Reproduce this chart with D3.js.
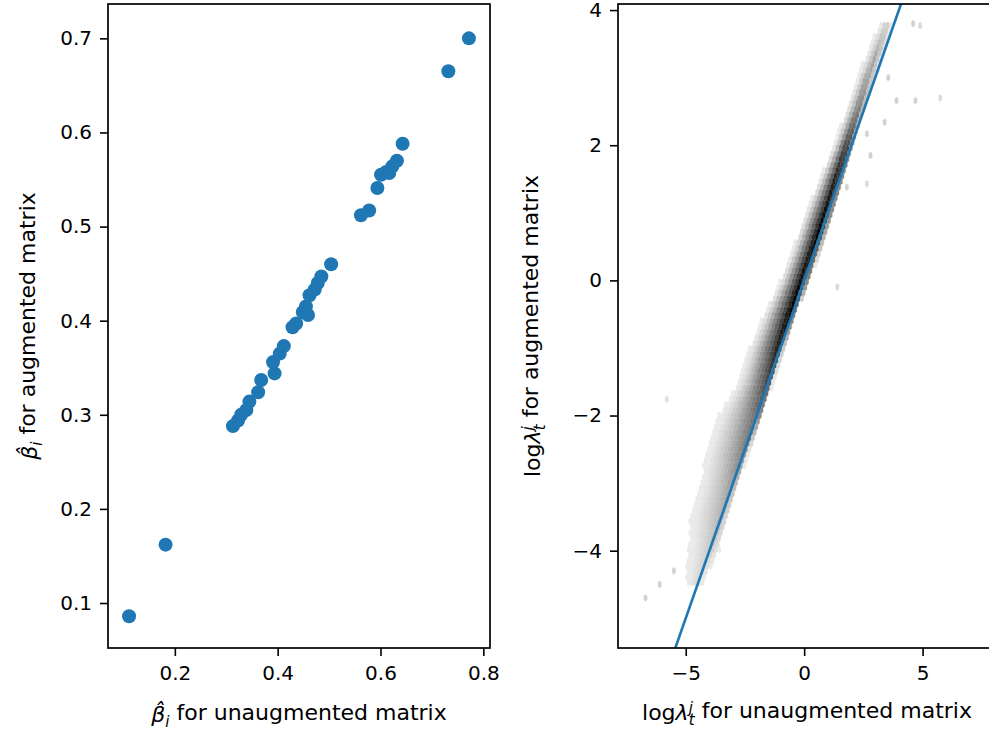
<!DOCTYPE html>
<html>
<head>
<meta charset="utf-8">
<script src="https://cdn.jsdelivr.net/npm/d3@7"></script>
<style>
  body { margin: 0; background: #fff; }
  text { font-family: "DejaVu Sans", sans-serif; fill: #000; }
</style>
</head>
<body>
<div id="chart"></div>
<script>
// left panel: beta estimates, unaugmented vs augmented
const betaUnaug = [0.111, 0.182, 0.313, 0.323, 0.329, 0.339, 0.345, 0.362, 0.368, 0.394, 0.391, 0.404,
  0.412, 0.429, 0.436, 0.459, 0.449, 0.455, 0.462, 0.472, 0.478, 0.485, 0.504, 0.562, 0.578, 0.594,
  0.601, 0.611, 0.617, 0.623, 0.632, 0.643, 0.732, 0.772];
const betaAug = [0.086, 0.162, 0.288, 0.294, 0.300, 0.305, 0.314, 0.324, 0.337, 0.344, 0.356, 0.365,
  0.373, 0.393, 0.397, 0.406, 0.409, 0.415, 0.427, 0.433, 0.440, 0.447, 0.460, 0.512, 0.517, 0.541,
  0.555, 0.558, 0.557, 0.564, 0.570, 0.588, 0.665, 0.700];
const leftXTicks = [0.2, 0.4, 0.6, 0.8];
const leftYTicks = [0.1, 0.2, 0.3, 0.4, 0.5, 0.6, 0.7];

// right panel: hexbin density band of log lambda, read row by row (y knots)
const bandY    = [-4.5, -4.0, -3.5, -3.0, -2.5, -2.0, -1.5, -1.0, -0.5, 0.0, 0.5, 1.0, 1.5, 2.0, 2.5, 3.0, 3.5, 3.8];
const bandLeft = [-5.0, -4.9, -4.8, -4.4, -4.1, -3.6, -2.8, -2.3, -1.7, -1.0, -0.45, 0.05, 0.65, 1.25, 1.75, 2.25, 2.8, 3.2];
const bandRight= [-4.3, -3.6, -3.2, -2.75, -2.3, -1.75, -1.3, -0.85, -0.35, 0.25, 0.75, 1.25, 1.7, 2.1, 2.55, 3.0, 3.5, 3.7];
const bandCore = [-4.6, -4.0, -3.5, -3.0, -2.5, -1.95, -1.5, -1.05, -0.6, -0.1, 0.4, 0.9, 1.35, 1.8, 2.25, 2.65, 3.2, 3.5];
const bandPeak = [0.15, 0.25, 0.35, 0.45, 0.55, 0.65, 0.8, 0.95, 1.0, 1.0, 1.0, 1.0, 0.95, 0.85, 0.6, 0.45, 0.35, 0.25];
// isolated hex cells away from the band: [x, y, shade]
const strayCells = [[4.6, 3.8, 0.2], [4.9, 3.77, 0.15], [3.55, 3.0, 0.2], [3.9, 2.66, 0.2], [4.7, 2.66, 0.2],
  [3.4, 2.34, 0.2], [2.65, 2.17, 0.2], [2.8, 1.85, 0.2], [2.65, 1.43, 0.15], [1.8, 1.38, 0.2],
  [1.4, -0.1, 0.15], [5.75, 2.7, 0.15], [-5.8, -1.76, 0.12], [-5.5, -4.3, 0.2], [-6.1, -4.5, 0.2],
  [-6.7, -4.7, 0.2]];
const rightXTicks = [-5, 0, 5];
const rightYTicks = [-4, -2, 0, 2, 4];

const width = 989, height = 732;
const blue = "#1f77b4";

const svg = d3.select("#chart").append("svg")
  .attr("width", width)
  .attr("height", height);
svg.append("rect").attr("width", width).attr("height", height).attr("fill", "#fff");

// ---------- left panel ----------
const L = { x0: 108, x1: 490, y0: 4, y1: 648 };
const xL = d3.scaleLinear().domain([0.070, 0.813]).range([L.x0, L.x1]);
const yL = d3.scaleLinear().domain([0.0522, 0.7365]).range([L.y1, L.y0]);

const gL = svg.append("g");
gL.selectAll("circle")
  .data(betaUnaug.map((v, i) => [v, betaAug[i]]))
  .enter().append("circle")
  .attr("cx", d => xL(d[0]))
  .attr("cy", d => yL(d[1]))
  .attr("r", 7)
  .attr("fill", blue);

drawAxes(gL, xL, yL, L, leftXTicks, leftYTicks, d3.format(".1f"), d3.format(".1f"));

// ---------- right panel ----------
const R = { x0: 618, x1: 996, y0: 4, y1: 648 };
const xR = d3.scaleLinear().domain([-7.86, 8.1]).range([R.x0, R.x1]);
const yR = d3.scaleLinear().domain([-5.44, 4.09]).range([R.y1, R.y0]);

svg.append("clipPath").attr("id", "clipR")
  .append("rect").attr("x", R.x0).attr("y", R.y0).attr("width", R.x1 - R.x0).attr("height", R.y1 - R.y0);

const gR = svg.append("g").attr("clip-path", "url(#clipR)");

// band profile as polylinear scales over y
const leftS = d3.scaleLinear().domain(bandY).range(bandLeft);
const rightS = d3.scaleLinear().domain(bandY).range(bandRight);
const coreS = d3.scaleLinear().domain(bandY).range(bandCore);
const peakS = d3.scaleLinear().domain(bandY).range(bandPeak);
const grey = s => d3.interpolateGreys(0.1 + 0.9 * s);

// hex grid like matplotlib hexbin (gridsize 100)
const sx = 0.1425, sy = 0.165, gx0 = -7.15, gy0 = -5.3;
const cells = [];
for (let j = 0; j < 62; j++) {
  for (let i = 0; i <= 100; i++) {
    [[gx0 + i * sx, gy0 + j * sy], [gx0 + (i + 0.5) * sx, gy0 + (j + 0.5) * sy]].forEach(([cx, cy]) => {
      if (cy < bandY[0] || cy > bandY[bandY.length - 1]) return;
      const l = leftS(cy), r = rightS(cy), c = coreS(cy), p = peakS(cy);
      if (cx < l || cx > r) return;
      let s;
      if (cx < c) s = p * Math.pow(1 - (c - cx) / (c - l), 1.0);
      else s = p * Math.pow(1 - (cx - c) / (r - c), 0.6);
      cells.push([cx, cy, Math.max(s, 0.06)]);
    });
  }
}
strayCells.forEach(d => cells.push(d));

const hw = (xR(sx) - xR(0)) / 2;
const hh = (yR(0) - yR(sy / 3));
function hexPath(px, py) {
  return `M${px + hw},${py + hh / 2}L${px + hw},${py - hh / 2}L${px},${py - hh}` +
    `L${px - hw},${py - hh / 2}L${px - hw},${py + hh / 2}L${px},${py + hh}Z`;
}

gR.selectAll("path.hex")
  .data(cells)
  .enter().append("path")
  .attr("class", "hex")
  .attr("d", d => hexPath(xR(d[0]), yR(d[1])))
  .attr("fill", d => grey(d[2]))
  .attr("stroke", d => grey(d[2]))
  .attr("stroke-width", 0.3);

// y = x reference line
gR.append("line")
  .attr("x1", xR(-6)).attr("y1", yR(-6))
  .attr("x2", xR(5)).attr("y2", yR(5))
  .attr("stroke", blue)
  .attr("stroke-width", 2.6);

drawAxes(svg.append("g"), xR, yR, R, rightXTicks, rightYTicks, d3.format("d"), d3.format("d"));

// ---------- axis labels ----------
const lx = svg.append("text").attr("x", (L.x0 + L.x1) / 2).attr("y", 722)
  .attr("text-anchor", "middle").style("font-size", "22px");
betaLabel(lx, " for unaugmented matrix");

const ly = svg.append("text").attr("transform", `translate(37,${(L.y0 + L.y1) / 2}) rotate(-90)`)
  .attr("text-anchor", "middle").style("font-size", "22px");
betaLabel(ly, " for augmented matrix");

const rx = svg.append("text").attr("x", (R.x0 + R.x1) / 2).attr("y", 720)
  .attr("text-anchor", "middle").style("font-size", "22px");
lambdaLabel(rx, " for unaugmented matrix");

const ry = svg.append("text").attr("transform", `translate(540,${(R.y0 + R.y1) / 2}) rotate(-90)`)
  .attr("text-anchor", "middle").style("font-size", "22px");
lambdaLabel(ry, " for augmented matrix");

function betaLabel(t, rest) {
  t.append("tspan").style("font-style", "italic").text("\u03B2\u0302");
  t.append("tspan").style("font-style", "italic").style("font-size", "15px").attr("dy", "0.3em").text("i");
  t.append("tspan").attr("dy", "-0.3em").text(rest);
}

function lambdaLabel(t, rest) {
  t.append("tspan").text("log");
  t.append("tspan").style("font-style", "italic").text("\u03BB");
  t.append("tspan").style("font-style", "italic").style("font-size", "15px").attr("dy", "-0.45em").text("j");
  t.append("tspan").style("font-style", "italic").style("font-size", "15px").attr("dx", -4).attr("dy", "0.8em").text("t");
  t.append("tspan").attr("dy", "-0.35em").text(rest);
}

// axes with frame, matplotlib style
function drawAxes(g, x, y, box, xt, yt, fx, fy) {
  const ax = g.append("g").attr("transform", `translate(0,${box.y1})`)
    .call(d3.axisBottom(x).tickValues(xt).tickFormat(fx).tickSize(8).tickPadding(10).tickSizeOuter(0));
  const ay = g.append("g").attr("transform", `translate(${box.x0},0)`)
    .call(d3.axisLeft(y).tickValues(yt).tickFormat(fy).tickSize(8).tickPadding(8).tickSizeOuter(0));
  [ax, ay].forEach(a => {
    a.select(".domain").remove();
    a.selectAll(".tick line").attr("stroke", "#000").attr("stroke-width", 1.6);
    a.selectAll(".tick text").style("font-size", "20px").attr("fill", "#000");
  });
  g.append("rect")
    .attr("x", box.x0).attr("y", box.y0)
    .attr("width", box.x1 - box.x0).attr("height", box.y1 - box.y0)
    .attr("fill", "none").attr("stroke", "#000").attr("stroke-width", 1.7);
}
</script>
</body>
</html>
